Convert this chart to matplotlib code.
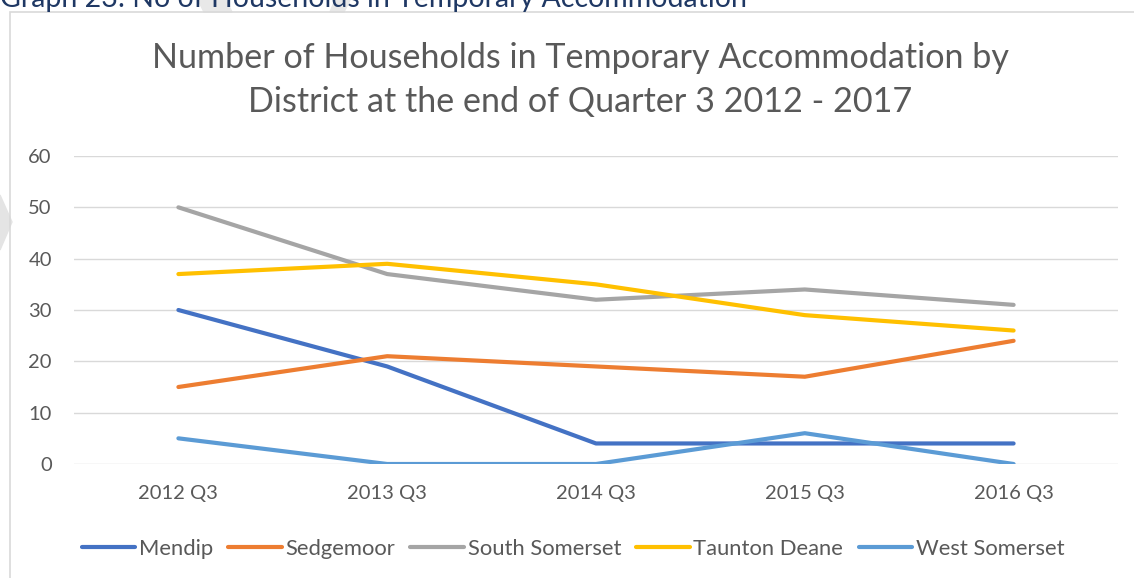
import matplotlib.pyplot as plt
from matplotlib.patches import Polygon, Rectangle

quarters = ['2012 Q3', '2013 Q3', '2014 Q3', '2015 Q3', '2016 Q3']
mendip = [30, 19, 4, 4, 4]
sedgemoor = [15, 21, 19, 17, 24]
south_somerset = [50, 37, 32, 34, 31]
taunton_deane = [37, 39, 35, 29, 26]
west_somerset = [5, 0, 0, 6, 0]

series = [
    ('Mendip', mendip, '#4472C4'),
    ('Sedgemoor', sedgemoor, '#ED7D31'),
    ('South Somerset', south_somerset, '#A5A5A5'),
    ('Taunton Deane', taunton_deane, '#FFC000'),
    ('West Somerset', west_somerset, '#5B9BD5'),
]

plt.rcParams['font.family'] = ['Lato', 'DejaVu Sans']
txt = '#595959'
W, H = 1134, 578

fig = plt.figure(figsize=(W / 100, H / 100), dpi=100)

# faint watermark pieces and the chart frame
fig.patches.append(Polygon([[0, 1 - 195/H], [12/W, 1 - 222/H], [0, 1 - 250/H]],
                           closed=True, transform=fig.transFigure, color='#E4E4E4', zorder=0))
fig.patches.append(Polygon([[198/W, 1], [226/W, 1], [232/W, 1 - 12/H], [204/W, 1 - 12/H]],
                           closed=True, transform=fig.transFigure, color='#E8E8E8', zorder=0))
fig.patches.append(Polygon([[335/W, 1], [350/W, 1], [344/W, 1 - 12/H], [330/W, 1 - 12/H]],
                           closed=True, transform=fig.transFigure, color='#E8E8E8', zorder=0))
fig.patches.append(Rectangle((10/W, -0.01), 1.2, 1 - 12/H + 0.01, transform=fig.transFigure,
                             fill=False, edgecolor='#D9D9D9', lw=1.2, zorder=1))

# caption of the report, cut at the top edge
fig.text(0.0, 1 - 6.5/H, 'Graph 23: No of Households in Temporary Accommodation',
         ha='left', va='baseline', fontsize=20.5, color='#1F3864')

ax = fig.add_axes([74/W, 1 - 464/H, (1118 - 74)/W, (464 - 156)/H])
x = range(len(quarters))
for name, vals, col in series:
    ax.plot(x, vals, color=col, lw=3, label=name, solid_capstyle='round', solid_joinstyle='round')

ax.set_xlim(-0.5, len(quarters) - 0.5)
ax.set_ylim(0, 60)
ax.set_yticks(range(0, 61, 10))
ax.set_xticks(list(x))
ax.set_xticklabels(quarters)
ax.grid(axis='y', color='#D9D9D9', lw=1)
ax.set_axisbelow(True)
for s in ax.spines.values():
    s.set_visible(False)
ax.tick_params(length=0, colors=txt, labelsize=14.5)
ax.tick_params(axis='x', pad=15)
ax.tick_params(axis='y', pad=16)

fig.text(580/W, 1 - 68/H, 'Number of Households in Temporary Accommodation by',
         ha='center', va='baseline', fontsize=24.6, color=txt)
fig.text(580/W, 1 - 112/H, 'District at the end of Quarter 3 2012 - 2017',
         ha='center', va='baseline', fontsize=24.6, color=txt)

fig.legend(loc='center', bbox_to_anchor=(573/W, 1 - 549/H), ncol=5, frameon=False,
           fontsize=15.8, labelcolor=txt, handlelength=2.45, handletextpad=0.15,
           columnspacing=0.7)

fig.savefig('out.png', dpi=100)
